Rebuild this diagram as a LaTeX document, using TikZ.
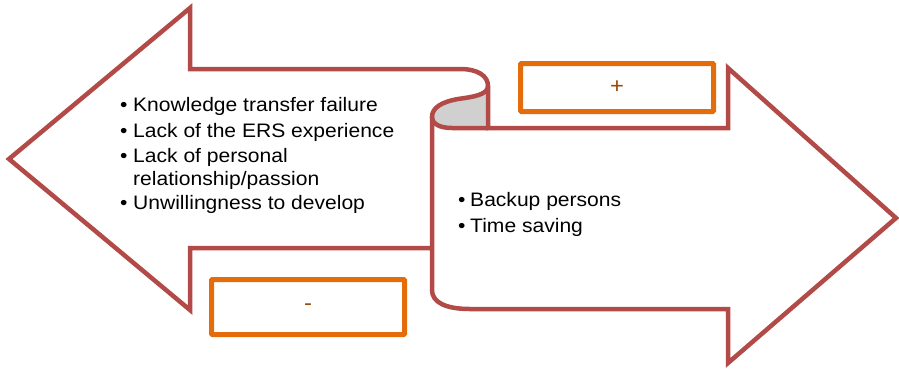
\documentclass[tikz,border=0pt]{standalone}
\usepackage{fontspec}
\setmainfont{Liberation Sans}[FakeStretch=1.08]
\definecolor{arrowred}{RGB}{178,74,71}
\definecolor{boxorange}{RGB}{228,108,10}
\definecolor{signbrown}{RGB}{152,72,7}
\definecolor{curlgray}{RGB}{208,208,208}
\begin{document}
\begin{tikzpicture}[x=1pt,y=-1pt,
  outline/.style={draw=arrowred,line width=4.5pt,line join=miter},
  signbox/.style={draw=boxorange,line width=5pt,rounded corners=1pt,inner sep=0pt,
    text=signbrown,font=\fontsize{22}{24}\selectfont},
  txt/.style={anchor=base west,inner sep=0pt,font=\fontsize{19.5}{22}\selectfont},
  bul/.style={anchor=base west,inner sep=0pt,font=\fontsize{19.5}{22}\selectfont}]
\useasboundingbox (0,0) rectangle (899,368);
% curl (gray scroll)
\filldraw[fill=curlgray,draw=arrowred,line width=4.5pt]
  (488,86) .. controls (488,95) and (472,97) .. (458,99)
  .. controls (441,102) and (432,108) .. (432,117)
  .. controls (432,124) and (440,128) .. (452,128) -- (488,128);
% outline of both arrows
\draw[outline] (432,248) -- (190,248) -- (190,310) -- (9,159) -- (190,8) -- (190,69)
  -- (460,69) .. controls (478,69) and (488,76) .. (488,86) -- (488,128)
  -- (728,128) -- (728,68) -- (896,218) -- (728,363) -- (728,309) -- (470,309)
  .. controls (445,309) and (432,302) .. (432,290) -- (432,117);
% sign boxes
\node[signbox,minimum width=193pt,minimum height=48pt] (plus) at (617,87.5) {+};
\node[signbox,minimum width=193pt,minimum height=55pt] (minus) at (308,307) {-};
% left texts
\node[bul] (b1) at (120,111) {•};
\node[txt] (l1) at (133,111) {Knowledge transfer failure};
\node[bul] (b2) at (120,137) {•};
\node[txt] (l2) at (133,137) {Lack of the ERS experience};
\node[bul] (b3) at (120,162) {•};
\node[txt] (l3) at (133,162) {Lack of personal};
\node[txt] (l4) at (133,185) {relationship/passion};
\node[bul] (b5) at (120,209) {•};
\node[txt] (l5) at (133,209) {Unwillingness to develop};
% right texts
\node[bul] (rb1) at (458,206) {•};
\node[txt] (r1) at (470,206) {Backup persons};
\node[bul] (rb2) at (458,232) {•};
\node[txt] (r2) at (470,232) {Time saving};
\end{tikzpicture}
\end{document}
